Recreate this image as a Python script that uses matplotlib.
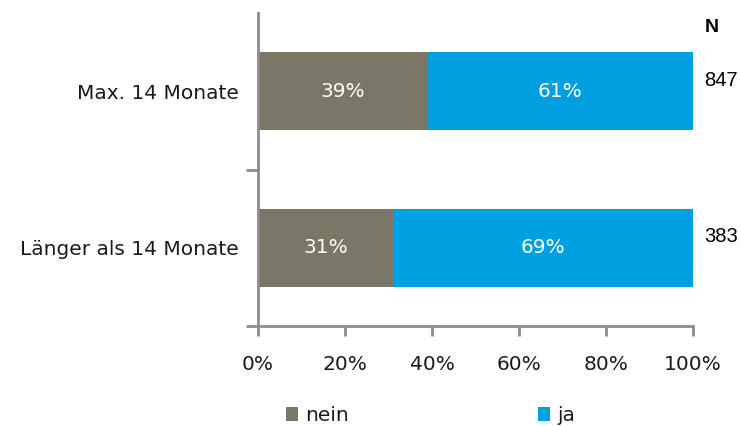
import matplotlib.pyplot as plt
from matplotlib.ticker import FixedLocator

c_nein = '#7a7766'
c_ja = '#009fe0'
c_achse = '#8c8c8c'
c_text = '#1a1a1a'

kategorien = ['Max. 14 Monate', 'Länger als 14 Monate']
nein = [39, 31]
ja = [61, 69]
n_werte = [847, 383]

fs = 14.5

fig = plt.figure(figsize=(7.41, 4.26), dpi=100)
ax = fig.add_axes([258 / 741, 100 / 426, 435 / 741, 313 / 426])

pos = list(range(len(kategorien)))
b1 = ax.barh(pos, nein, height=0.5, color=c_nein, label='nein')
b2 = ax.barh(pos, ja, left=nein, height=0.5, color=c_ja, label='ja')

for i in pos:
    ax.text(nein[i] / 2, i, f'{nein[i]}%', color='white', ha='center', va='center', fontsize=fs)
    ax.text(nein[i] + ja[i] / 2, i, f'{ja[i]}%', color='white', ha='center', va='center', fontsize=fs)
    ax.text(102.5, i - 0.07, str(n_werte[i]), ha='left', va='center', fontsize=14.5,
            family='Liberation Sans', color='black', clip_on=False)
ax.text(102.7, -0.41, 'N', ha='left', va='center', fontsize=14, fontweight='bold',
        family='Liberation Sans', color='black', clip_on=False)

ax.set_xlim(0, 100)
ax.set_ylim(1.5, -0.5)
ax.set_xticks([0, 20, 40, 60, 80, 100])
ax.set_xticklabels(['0%', '20%', '40%', '60%', '80%', '100%'], fontsize=fs, color=c_text)
ax.set_yticks(pos)
ax.set_yticklabels(kategorien, fontsize=fs, color=c_text)
ax.yaxis.set_minor_locator(FixedLocator([0.5, 1.5]))
ax.tick_params(axis='y', which='major', length=0, pad=14)
ax.tick_params(axis='y', which='minor', length=9, width=2, color=c_achse)
ax.tick_params(axis='x', length=7, width=2, color=c_achse, pad=14)

for s in ['top', 'right']:
    ax.spines[s].set_visible(False)
for s in ['left', 'bottom']:
    ax.spines[s].set_color(c_achse)
    ax.spines[s].set_linewidth(2)

fig.legend(handles=[b1, b2], loc='lower left', bbox_to_anchor=(268 / 741, -0.04), ncol=2,
           frameon=False, fontsize=fs, handlelength=0.6, handleheight=0.75,
           handletextpad=0.35, columnspacing=9.4, labelcolor=c_text)

fig.savefig('out.png', dpi=100)
